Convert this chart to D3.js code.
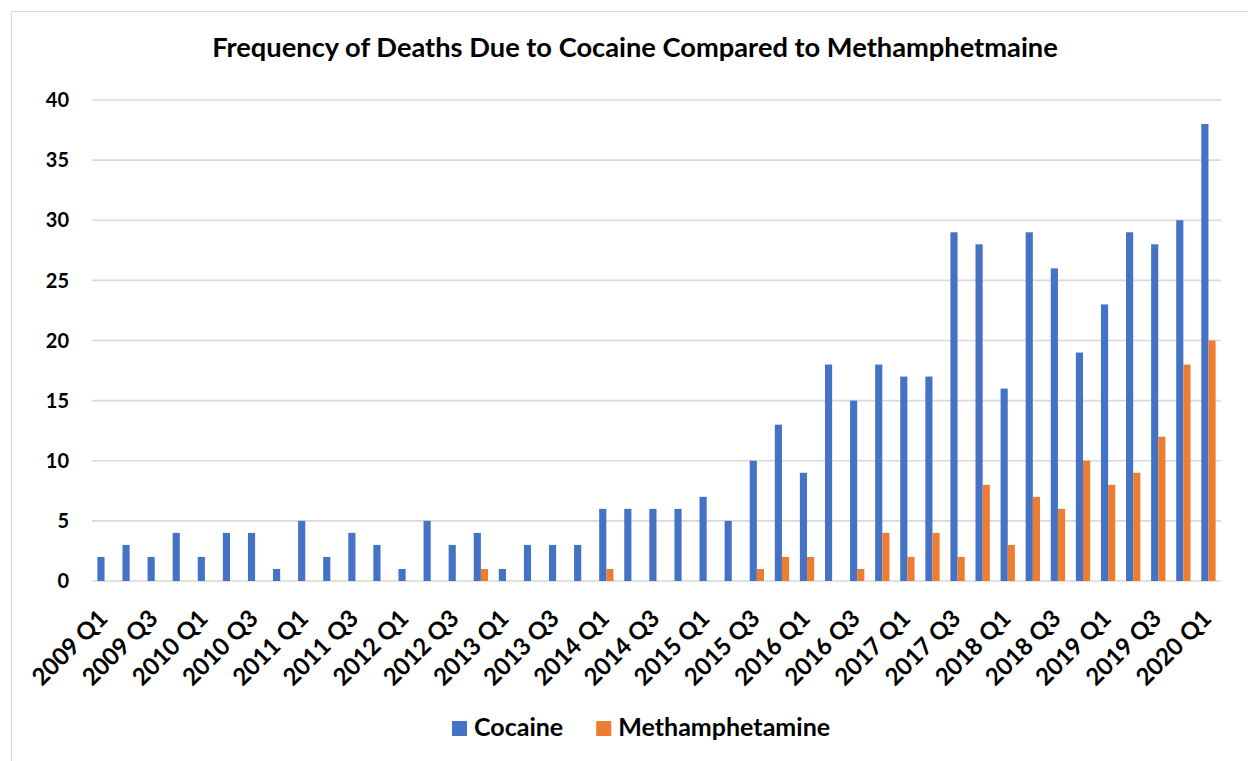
<!DOCTYPE html>
<html>
<head>
<meta charset="utf-8">
<script src="https://cdn.jsdelivr.net/npm/d3@7"></script>
<style>
  html, body { margin: 0; padding: 0; background: #fff; }
  svg { display: block; }
  text { font-family: Lato, "Open Sans", sans-serif; font-weight: 700; fill: #000; }
</style>
</head>
<body>
<svg id="chart" width="1248" height="761"></svg>
<script>
const quarters = [
  "2009 Q1","2009 Q2","2009 Q3","2009 Q4",
  "2010 Q1","2010 Q2","2010 Q3","2010 Q4",
  "2011 Q1","2011 Q2","2011 Q3","2011 Q4",
  "2012 Q1","2012 Q2","2012 Q3","2012 Q4",
  "2013 Q1","2013 Q2","2013 Q3","2013 Q4",
  "2014 Q1","2014 Q2","2014 Q3","2014 Q4",
  "2015 Q1","2015 Q2","2015 Q3","2015 Q4",
  "2016 Q1","2016 Q2","2016 Q3","2016 Q4",
  "2017 Q1","2017 Q2","2017 Q3","2017 Q4",
  "2018 Q1","2018 Q2","2018 Q3","2018 Q4",
  "2019 Q1","2019 Q2","2019 Q3","2019 Q4",
  "2020 Q1"
];
const cocaine = [
  2,3,2,4, 2,4,4,1, 5,2,4,3, 1,5,3,4, 1,3,3,3,
  6,6,6,6, 7,5,10,13, 9,18,15,18, 17,17,29,28,
  16,29,26,19, 23,29,28,30, 38
];
const methamphetamine = [
  0,0,0,0, 0,0,0,0, 0,0,0,0, 0,0,0,1, 0,0,0,0,
  1,0,0,0, 0,0,1,2, 2,0,1,4, 2,4,2,8,
  3,7,6,10, 8,9,12,18, 20
];
const yTicks = [0,5,10,15,20,25,30,35,40];
const seriesNames = ["Cocaine","Methamphetamine"];
const seriesColors = ["#4472C4","#ED7D31"];
const titleText = "Frequency of Deaths Due to Cocaine Compared to Methamphetmaine";

const svg = d3.select("#chart");

// outer chart border (only top & left visible in frame)
svg.append("rect")
  .attr("x", 11.5).attr("y", 11.5)
  .attr("width", 1400).attr("height", 900)
  .attr("fill", "none").attr("stroke", "#d9d9d9").attr("stroke-width", 1);

const plot = {left: 92, right: 1221, top: 100, bottom: 581};

const x = d3.scaleBand().domain(quarters).range([plot.left, plot.right]).padding(0);
const y = d3.scaleLinear().domain([0, 40]).range([plot.bottom, plot.top]);
const bw = x.bandwidth();
const barW = bw * 0.285;

// gridlines
svg.append("g").selectAll("line").data(yTicks).join("line")
  .attr("x1", plot.left).attr("x2", plot.right)
  .attr("y1", d => y(d)).attr("y2", d => y(d))
  .attr("stroke", "#d9d9d9").attr("stroke-width", 1.6);

// y labels
svg.append("g").selectAll("text").data(yTicks).join("text")
  .attr("x", 69).attr("y", d => y(d))
  .attr("dy", "0.36em")
  .attr("text-anchor", "end")
  .style("font-size", "20px")
  .text(d => d);

// bars
const series = [cocaine, methamphetamine];
series.forEach((vals, si) => {
  svg.append("g").selectAll("rect").data(vals.map((v, i) => ({q: quarters[i], v})))
    .join("rect")
    .attr("x", d => x(d.q) + bw / 2 - barW + si * barW)
    .attr("width", barW)
    .attr("y", d => y(d.v))
    .attr("height", d => y(0) - y(d.v))
    .attr("fill", seriesColors[si]);
});

// x labels (every other quarter)
const xl = svg.append("g").selectAll("text")
  .data(quarters.filter((q, i) => i % 2 === 0)).join("text")
  .attr("text-anchor", "end")
  .attr("transform", d => `translate(${x(d) + bw / 2 + 4.5},620) rotate(-45)`)
  .style("font-size", "20px")
  .text(d => d);
{
  const w = xl.node().getComputedTextLength();
  xl.style("font-size", Math.min(24, 20 * 101 / w) + "px");
}

// title
const title = svg.append("text")
  .attr("x", 635).attr("y", 57)
  .attr("text-anchor", "middle")
  .style("font-size", "22px")
  .text(titleText);
{
  const w = title.node().getComputedTextLength();
  title.style("font-size", (22 * 846 / w) + "px");
}

// legend
const leg = svg.append("g");
const probe = leg.append("text").style("font-size", "20px").text(seriesNames[1]);
const legFs = 20 * 212 / probe.node().getComputedTextLength();
probe.remove();
let lx = 452;
seriesNames.forEach((name, i) => {
  leg.append("rect").attr("x", lx).attr("y", 721).attr("width", 15).attr("height", 15)
    .attr("fill", seriesColors[i]);
  const t = leg.append("text").attr("x", lx + 22).attr("y", 736)
    .style("font-size", legFs + "px").text(name);
  const w = t.node().getComputedTextLength();
  lx = lx + 22 + w + 33;
});
</script>
</body>
</html>
